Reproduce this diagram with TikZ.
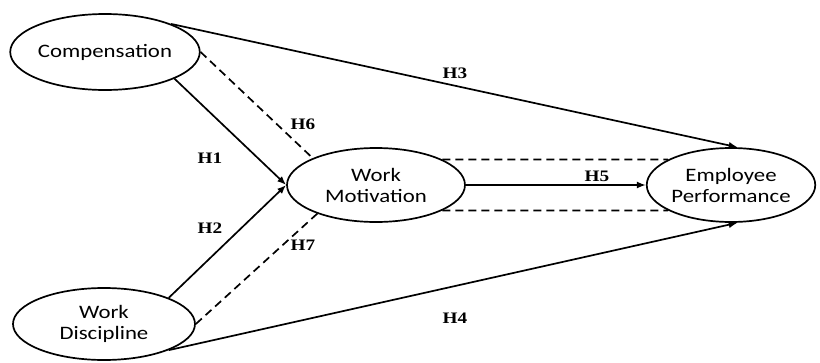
\documentclass[tikz,border=0pt]{standalone}
\usepackage{fontspec}
\usetikzlibrary{shapes.geometric,arrows.meta}
\newfontfamily\constructfont[FakeStretch=1.2]{Carlito}
\newfontfamily\hypfont[FakeStretch=1.2]{Liberation Serif}
\begin{document}
\begin{tikzpicture}[x=1pt,y=-1pt,
  construct/.style={ellipse,draw,line width=1.7pt,inner sep=0pt,
    font=\constructfont\fontsize{19}{21}\selectfont,align=center},
  path/.style={line width=1.7pt,-{Latex[length=9pt,width=7pt]}},
  dashlink/.style={line width=1.7pt,dash pattern=on 8pt off 5pt},
  hyp/.style={font=\hypfont\bfseries\fontsize{16}{18}\selectfont}]
\useasboundingbox (0,0) rectangle (820,362);

% latent constructs
\node[construct,minimum width=180pt,minimum height=76pt] (comp) at (105,52) {Compensation};
\node[construct,minimum width=182pt,minimum height=72pt] (wd) at (104,324) {Work\\Discipline};
\node[construct,minimum width=178pt,minimum height=74pt] (wm) at (376,185) {Work\\Motivation};
\node[construct,minimum width=160pt,minimum height=74pt] (ep) at (731,185) {Employee\\Performance};

% direct effects
\draw[path] (comp.23) -- (ep.80);
\draw[path] (comp.-21) -- (wm.west);
\draw[path] (wd.22) -- (wm.west);
\draw[path] (wm.east) -- (ep.west);
\draw[path] (wd.-22) -- (ep.-80);

% mediated effects
\draw[dashlink] (comp.east) -- (wm.157);
\draw[dashlink] (wm.206) -- (wd.east);
\draw[dashlink] (wm.21) -- (ep.158);
\draw[dashlink] (wm.-21) -- (ep.202);

% hypothesis labels
\node[hyp] (h3) at (455,73) {H3};
\node[hyp] (h6) at (303,124) {H6};
\node[hyp] (h1) at (210,158) {H1};
\node[hyp] (h2) at (210,228) {H2};
\node[hyp] (h7) at (303,245) {H7};
\node[hyp] (h5) at (597,176) {H5};
\node[hyp] (h4) at (455,318) {H4};
\end{tikzpicture}
\end{document}
